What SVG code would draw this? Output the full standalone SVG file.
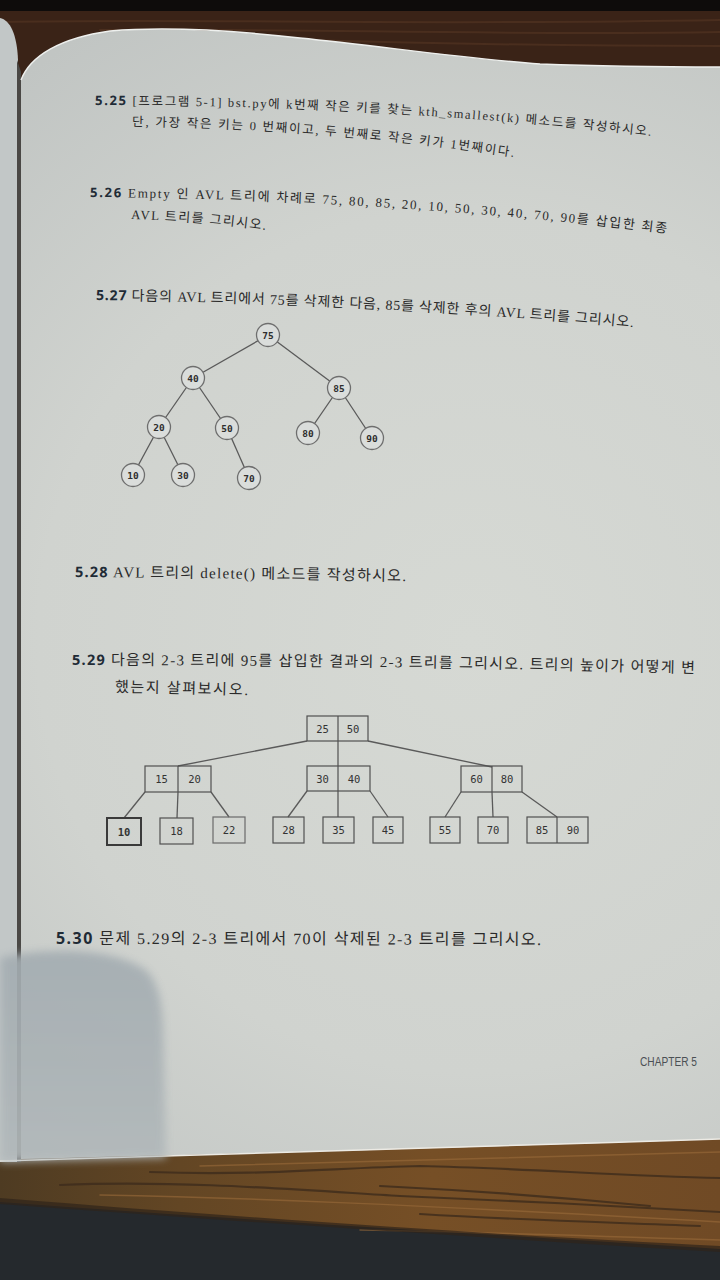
<svg xmlns="http://www.w3.org/2000/svg" width="720" height="1280" viewBox="0 0 720 1280">
<defs>
<style>
.q{font-family:"Liberation Serif","Noto Sans CJK KR",serif;fill:#2a2a2a;}
.n{font-family:"Noto Sans","Open Sans",sans-serif;font-weight:700;fill:#1f2b36;}
.nd circle{fill:#dadddb;stroke:#6e6e6e;stroke-width:1.3}
.lbl{font-family:"DejaVu Sans Mono","Liberation Mono",monospace;font-weight:bold;font-size:9.5px;fill:#2e2e2e;text-anchor:middle;dominant-baseline:central}
.lb2{font-family:"DejaVu Sans Mono","Liberation Mono",monospace;font-size:10.5px;fill:#333;text-anchor:middle;dominant-baseline:central}
.edge{stroke:#5a5a5a;stroke-width:1.3;fill:none}
.bx rect,.bx line{fill:none;stroke:#505050;stroke-width:1.2}
.grain{fill:none;stroke-linecap:round}
</style>
<radialGradient id="paper" cx="470" cy="640" r="720" gradientUnits="userSpaceOnUse">
<stop offset="0" stop-color="#d6d9d4"/>
<stop offset="0.6" stop-color="#d0d3cf"/>
<stop offset="1" stop-color="#c1c5c3"/>
</radialGradient>
<linearGradient id="woodB" x1="0" y1="0" x2="1" y2="0">
<stop offset="0" stop-color="#4e3b22"/>
<stop offset="0.25" stop-color="#634624"/>
<stop offset="0.6" stop-color="#764f26"/>
<stop offset="1" stop-color="#704a25"/>
</linearGradient>
<linearGradient id="shade" x1="0" y1="0" x2="0" y2="1">
<stop offset="0" stop-color="#a3acb1"/>
<stop offset="1" stop-color="#b1b8ba"/>
</linearGradient>
<filter id="blur" x="-20%" y="-20%" width="140%" height="140%"><feGaussianBlur stdDeviation="4"/></filter>
<path id="p1" d="M 95 105 Q 380 105 652 136"/>
<path id="p2" d="M 132 126 Q 330 129 514 157"/>
<path id="p3" d="M 90 197 Q 380 199 667 233"/>
<path id="p4" d="M 131 219 Q 200 221 266 230"/>
<path id="p5" d="M 96 300 Q 360 303 633 327"/>
<path id="p6" d="M 75 577 Q 240 578 406 581"/>
<path id="p7" d="M 72 665 Q 380 665 695 673"/>
<path id="p8" d="M 115 692 Q 180 693 248 695"/>
<path id="p9" d="M 56 944 Q 300 944 541 945"/>
</defs>

<!-- background: desk, wood and fabric -->
<rect x="0" y="0" width="720" height="1280" fill="#25292d"/>
<rect x="0" y="0" width="720" height="140" fill="#3a2317"/>
<rect x="0" y="0" width="720" height="11" fill="#0e0c0b"/>
<g class="grain" stroke="#4a2e1e" stroke-width="2">
<path d="M 0 22 C 200 18 400 26 720 20"/>
<path d="M 100 30 C 300 28 500 36 720 32"/>
<path d="M 300 40 C 450 44 600 46 720 46"/>
</g>
<path d="M 0 1156 L 720 1136 L 720 1249 C 520 1236 300 1224 0 1202 Z" fill="url(#woodB)"/>
<g class="grain" stroke="#3e2c1c" stroke-width="2.2" opacity="0.8">
<path d="M 150 1172 C 260 1176 330 1168 420 1166 C 520 1168 620 1176 720 1178"/>
<path d="M 60 1185 C 180 1180 300 1190 400 1196 C 500 1200 620 1206 720 1212"/>
<path d="M 380 1186 C 460 1190 540 1195 650 1206"/>
<path d="M 420 1214 C 520 1220 600 1222 700 1226"/>
</g>
<g class="grain" stroke="#9a6b3a" stroke-width="1.5" opacity="0.6">
<path d="M 200 1166 C 320 1162 450 1160 720 1152"/>
<path d="M 100 1195 C 250 1198 400 1204 720 1222"/>
<path d="M 360 1230 C 480 1232 600 1236 720 1240"/>
</g>
<path d="M 0 1198 C 300 1222 520 1236 720 1246 L 720 1252 C 520 1240 300 1226 0 1204 Z" fill="#2f241a" opacity="0.7"/>

<!-- pages underneath (left strip) -->
<path d="M 0 18 C 10 20 17 34 18 60 L 18 1162 L 0 1162 Z" fill="#c2c7c7"/>
<path d="M 17 60 L 21 72 L 21 1162 L 17 1162 Z" fill="#4a4845"/>

<!-- main page -->
<path id="page" d="M 21 1160 L 21 80 C 30 56 60 38 110 31 C 160 27 230 30 300 38 C 380 46 460 58 540 64 C 620 67 680 67 720 67 L 720 1139 C 600 1143 400 1150 21 1159 Z" fill="url(#paper)"/>
<path d="M 21 80 C 30 56 60 38 110 31 C 160 27 230 30 300 38 C 380 46 460 58 540 64 C 620 67 680 67 720 67" fill="none" stroke="#eef0ee" stroke-width="1.5"/>
<path d="M 0 1161 C 300 1152 500 1146 720 1139" fill="none" stroke="#eceae4" stroke-width="1.5"/>

<!-- hand shadow bottom-left -->
<path d="M 0 958 C 40 948 115 946 148 972 C 158 985 162 1000 163 1030 L 166 1158 L 0 1162 Z" fill="url(#shade)" filter="url(#blur)" opacity="0.9"/>

<!-- texts -->
<g id="q525">
<text class="q" font-size="12.5"><textPath href="#p1" textLength="557" lengthAdjust="spacing"><tspan class="n" font-size="13">5.25</tspan> [프로그램 5-1] bst.py에 k번째 작은 키를 찾는 kth_smallest(k) 메소드를 작성하시오.</textPath></text>
<text class="q" font-size="12.5"><textPath href="#p2" textLength="383" lengthAdjust="spacing">단, 가장 작은 키는 0 번째이고, 두 번째로 작은 키가 1번째이다.</textPath></text>
</g>
<g id="q526">
<text class="q" font-size="13"><textPath href="#p3" textLength="578" lengthAdjust="spacing"><tspan class="n" font-size="13">5.26</tspan> Empty 인 AVL 트리에 차례로 75, 80, 85, 20, 10, 50, 30, 40, 70, 90를 삽입한 최종</textPath></text>
<text class="q" font-size="13"><textPath href="#p4" textLength="135" lengthAdjust="spacing">AVL 트리를 그리시오.</textPath></text>
</g>
<g id="q527">
<text class="q" font-size="14"><textPath href="#p5" textLength="538" lengthAdjust="spacing"><tspan class="n" font-size="14">5.27</tspan> 다음의 AVL 트리에서 75를 삭제한 다음, 85를 삭제한 후의 AVL 트리를 그리시오.</textPath></text>
</g>
<g id="q528">
<text class="q" font-size="15"><textPath href="#p6" textLength="331" lengthAdjust="spacing"><tspan class="n" font-size="14.5">5.28</tspan> AVL 트리의 delete() 메소드를 작성하시오.</textPath></text>
</g>
<g id="q529">
<text class="q" font-size="15"><textPath href="#p7" textLength="623" lengthAdjust="spacing"><tspan class="n" font-size="14.5">5.29</tspan> 다음의 2-3 트리에 95를 삽입한 결과의 2-3 트리를 그리시오. 트리의 높이가 어떻게 변</textPath></text>
<text class="q" font-size="15"><textPath href="#p8" textLength="133" lengthAdjust="spacing">했는지 살펴보시오.</textPath></text>
</g>
<g id="q530">
<text class="q" font-size="16"><textPath href="#p9" textLength="485" lengthAdjust="spacing"><tspan class="n" font-size="16">5.30</tspan> 문제 5.29의 2-3 트리에서 70이 삭제된 2-3 트리를 그리시오.</textPath></text>
</g>
<text id="chapter" x="640" y="1066" font-family="Liberation Sans, sans-serif" font-size="12.5" fill="#4b5054" textLength="57" lengthAdjust="spacingAndGlyphs">CHAPTER 5</text>

<!-- AVL tree (5.27) -->
<g id="avl">
<g id="avl-edges" class="edge">
<line x1="268" y1="335" x2="193" y2="378"/>
<line x1="268" y1="335" x2="339" y2="388"/>
<line x1="193" y1="378" x2="159" y2="427"/>
<line x1="193" y1="378" x2="227" y2="428"/>
<line x1="339" y1="388" x2="308" y2="433"/>
<line x1="339" y1="388" x2="372" y2="438"/>
<line x1="159" y1="427" x2="133" y2="475"/>
<line x1="159" y1="427" x2="183" y2="475"/>
<line x1="227" y1="428" x2="249" y2="478"/>
</g>
<g id="n75" class="nd"><circle cx="268" cy="335" r="11.5"/><text class="lbl" x="268" y="335">75</text></g>
<g id="n40" class="nd"><circle cx="193" cy="378" r="11.5"/><text class="lbl" x="193" y="378">40</text></g>
<g id="n85" class="nd"><circle cx="339" cy="388" r="11.5"/><text class="lbl" x="339" y="388">85</text></g>
<g id="n20" class="nd"><circle cx="159" cy="427" r="11.5"/><text class="lbl" x="159" y="427">20</text></g>
<g id="n50" class="nd"><circle cx="227" cy="428" r="11.5"/><text class="lbl" x="227" y="428">50</text></g>
<g id="n80" class="nd"><circle cx="308" cy="433" r="11.5"/><text class="lbl" x="308" y="433">80</text></g>
<g id="n90" class="nd"><circle cx="372" cy="438" r="11.5"/><text class="lbl" x="372" y="438">90</text></g>
<g id="n10" class="nd"><circle cx="133" cy="475" r="11.5"/><text class="lbl" x="133" y="475">10</text></g>
<g id="n30" class="nd"><circle cx="183" cy="475" r="11.5"/><text class="lbl" x="183" y="475">30</text></g>
<g id="n70" class="nd"><circle cx="249" cy="478" r="11.5"/><text class="lbl" x="249" y="478">70</text></g>
</g>

<!-- 2-3 tree (5.29) -->
<g id="t23">
<g id="t23-edges" class="edge" stroke-width="1.2">
<line x1="307" y1="741" x2="178" y2="766"/>
<line x1="338" y1="741" x2="338" y2="766"/>
<line x1="368" y1="741" x2="492" y2="767"/>
<line x1="145" y1="792" x2="124" y2="818"/>
<line x1="178" y1="792" x2="177" y2="818"/>
<line x1="211" y1="792" x2="229" y2="817"/>
<line x1="307" y1="791" x2="288" y2="817"/>
<line x1="338" y1="791" x2="338" y2="817"/>
<line x1="370" y1="791" x2="388" y2="817"/>
<line x1="461" y1="792" x2="445" y2="817"/>
<line x1="492" y1="792" x2="493" y2="817"/>
<line x1="522" y1="792" x2="557" y2="817"/>
</g>
<g id="b2550" class="bx"><rect x="307" y="716" width="61" height="25"/><line x1="338" y1="716" x2="338" y2="741"/><text class="lb2" x="322.5" y="729">25</text><text class="lb2" x="353" y="729">50</text></g>
<g id="b1520" class="bx"><rect x="145" y="766" width="66" height="26"/><line x1="178" y1="766" x2="178" y2="792"/><text class="lb2" x="161.5" y="779">15</text><text class="lb2" x="194.5" y="779">20</text></g>
<g id="b3040" class="bx"><rect x="307" y="766" width="63" height="25"/><line x1="338" y1="766" x2="338" y2="791"/><text class="lb2" x="322.5" y="778.5">30</text><text class="lb2" x="354" y="778.5">40</text></g>
<g id="b6080" class="bx"><rect x="461" y="766" width="61" height="26"/><line x1="492" y1="766" x2="492" y2="792"/><text class="lb2" x="476.5" y="779">60</text><text class="lb2" x="507" y="779">80</text></g>
<g id="b10" class="bx"><rect x="107" y="818" width="34" height="27" style="stroke-width:2;stroke:#3a3a3a"/><text class="lb2" x="124" y="831.5" font-weight="bold">10</text></g>
<g id="b18" class="bx"><rect x="160" y="818" width="33" height="26"/><text class="lb2" x="176.5" y="831">18</text></g>
<g id="b22" class="bx"><rect x="213" y="817" width="32" height="26" style="stroke:#6a6a6a"/><text class="lb2" x="229" y="830" fill="#555">22</text></g>
<g id="b28" class="bx"><rect x="273" y="817" width="31" height="26"/><text class="lb2" x="288.5" y="830">28</text></g>
<g id="b35" class="bx"><rect x="323" y="817" width="31" height="26"/><text class="lb2" x="338.5" y="830">35</text></g>
<g id="b45" class="bx"><rect x="373" y="817" width="30" height="26"/><text class="lb2" x="388" y="830">45</text></g>
<g id="b55" class="bx"><rect x="430" y="817" width="30" height="26"/><text class="lb2" x="445" y="830">55</text></g>
<g id="b70" class="bx"><rect x="478" y="817" width="30" height="26"/><text class="lb2" x="493" y="830">70</text></g>
<g id="b8590" class="bx"><rect x="527" y="817" width="61" height="26"/><line x1="557" y1="817" x2="557" y2="843"/><text class="lb2" x="542" y="830">85</text><text class="lb2" x="573" y="830">90</text></g>
</g>
</svg>
